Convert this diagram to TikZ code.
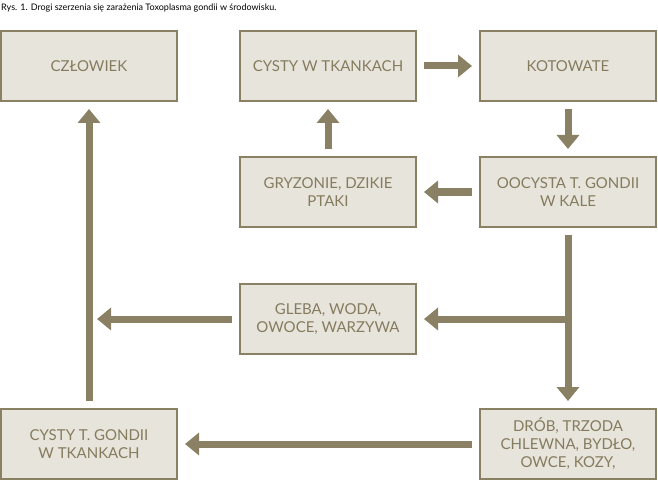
\documentclass[tikz,border=0pt]{standalone}
\usepackage{fontspec}
\setmainfont{Lato}
\usetikzlibrary{arrows.meta}
\definecolor{boxfill}{HTML}{E7E4DB}
\definecolor{olive}{HTML}{8A8064}
\definecolor{txt}{HTML}{857B5E}

\begin{document}
\begin{tikzpicture}[x=1pt,y=-1pt,
  box/.style={draw=olive,line width=2pt,fill=boxfill,minimum width=176pt,minimum height=70pt,
    text=txt,align=center,font=\fontsize{15}{18}\selectfont,inner sep=0pt},
  flow/.style={olive,line width=7pt,-{Triangle[length=14pt,width=22pt]},shorten <=7pt,shorten >=7pt}]
\useasboundingbox (0,0) rectangle (658,481);

\node[anchor=north west,font=\fontsize{9}{10}\selectfont,inner sep=0pt] (title) at (1,4) {Rys. 1. Drogi szerzenia się zarażenia Toxoplasma gondii w środowisku.};

\node[box] (czlowiek) at (89,66) {CZŁOWIEK};
\node[box] (cysty) at (328,66) {CYSTY W TKANKACH};
\node[box] (kot) at (568,66) {KOTOWATE};
\node[box] (gryz) at (328,192) {GRYZONIE, DZIKIE\\PTAKI};
\node[box] (oocysta) at (568,192) {OOCYSTA T. GONDII\\W KALE};
\node[box] (gleba) at (328,319) {GLEBA, WODA,\\OWOCE, WARZYWA};
\node[box] (drob) at (568,444) {DRÓB, TRZODA\\CHLEWNA, BYDŁO,\\OWCE, KOZY,};
\node[box] (cystyt) at (89,444) {CYSTY T. GONDII\\W TKANKACH};

\coordinate (branch) at (568,319);
\coordinate (glebaend) at (90,319);

\draw[flow] (cysty) -- (kot);
\draw[flow] (kot) -- (oocysta);
\draw[flow] (oocysta) -- (gryz);
\draw[flow] (gryz) -- (cysty);
\draw[flow] (oocysta) -- (drob);
\draw[flow,shorten <=0pt] (branch) -- (gleba);
\draw[flow] (gleba) -- (glebaend);
\draw[flow] (drob) -- (cystyt);
\draw[flow] (cystyt) -- (czlowiek);
\end{tikzpicture}
\end{document}
